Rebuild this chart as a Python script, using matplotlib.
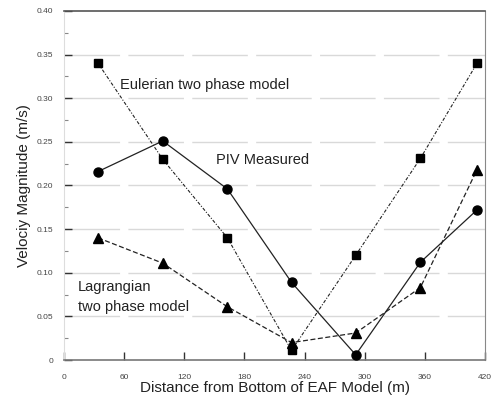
import matplotlib
matplotlib.use("Agg")
import matplotlib.pyplot as plt
from matplotlib.ticker import MultipleLocator

plt.rcParams['font.family'] = ['Liberation Sans', 'DejaVu Sans']

distance = [34, 98.5, 163, 227, 291, 355.5, 412]
eulerian = [0.340, 0.230, 0.140, 0.011, 0.120, 0.231, 0.340]
piv = [0.216, 0.251, 0.196, 0.089, 0.006, 0.112, 0.172]
lagrangian = [0.140, 0.111, 0.061, 0.020, 0.031, 0.083, 0.218]

x_ticks = [0, 60, 120, 180, 240, 300, 360, 420]
y_ticks = [0, 0.05, 0.10, 0.15, 0.20, 0.25, 0.30, 0.35, 0.40]
y_tick_labels = ['0', '0.05', '0.10', '0.15', '0.20', '0.25', '0.30', '0.35', '0.40']

fig = plt.figure(figsize=(4.93, 4.05), dpi=100)
ax = fig.add_axes([0.1298, 0.111, 0.854, 0.862])

for yv in y_ticks[1:-1]:
    ax.axhline(yv, color='#d9d9d9', lw=1.0, dashes=(40, 6), zorder=0)

ax.plot(distance, eulerian, color='#222222', lw=0.8, ls=(0, (3, 1.5, 1, 1.5)),
        marker='s', ms=5.5, mfc='black', mec='black', zorder=3)
ax.plot(distance, piv, color='#222222', lw=0.9, ls='-',
        marker='o', ms=6.5, mfc='black', mec='black', zorder=3)
ax.plot(distance, lagrangian, color='#222222', lw=0.9, ls=(0, (4, 2)),
        marker='^', ms=6.5, mfc='black', mec='black', zorder=3)

ax.set_xlim(0, 420)
ax.set_ylim(0, 0.40)
ax.set_xticks(x_ticks)
ax.set_xticklabels([str(v) for v in x_ticks])
ax.set_yticks(y_ticks)
ax.set_yticklabels(y_tick_labels)
ax.yaxis.set_minor_locator(MultipleLocator(0.025))

ax.tick_params(axis='both', which='major', direction='in', length=6, width=1,
               color='#333333', labelsize=6, labelcolor='#444444')
ax.tick_params(axis='x', which='major', pad=10)
ax.tick_params(axis='y', which='major', pad=8)
ax.tick_params(axis='y', which='minor', direction='in', length=3, width=0.8,
               color='#888888')
ax.tick_params(axis='x', which='both', top=False)
ax.tick_params(axis='y', which='both', right=False)

ax.spines['left'].set_color('#dddddd')
ax.spines['left'].set_linewidth(0.8)
ax.spines['bottom'].set_color('#777777')
ax.spines['bottom'].set_linewidth(1.2)
ax.spines['top'].set_color('#555555')
ax.spines['top'].set_linewidth(1.2)
ax.spines['right'].set_color('#888888')
ax.spines['right'].set_linewidth(0.8)

ax.set_xlabel('Distance from Bottom of EAF Model (m)', fontsize=11, color='#222222', labelpad=0)
ax.set_ylabel('Velociy Magnitude (m/s)', fontsize=11, color='#222222', labelpad=4)

ax.text(56, 0.315, 'Eulerian two phase model', fontsize=10.5, color='#222222', va='center')
ax.text(152, 0.229, 'PIV Measured', fontsize=10.5, color='#222222', va='center')
ax.text(14, 0.084, 'Lagrangian', fontsize=10.5, color='#222222', va='center')
ax.text(14, 0.061, 'two phase model', fontsize=10.5, color='#222222', va='center')

fig.savefig('out.png', dpi=100)
